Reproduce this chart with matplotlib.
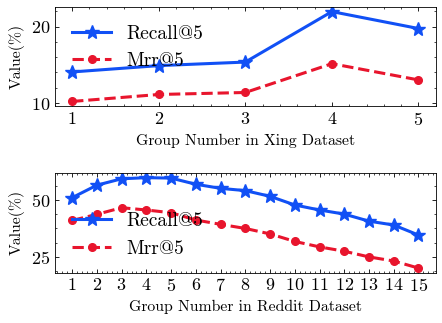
import matplotlib
matplotlib.use("Agg")
import matplotlib.pyplot as plt
from matplotlib.ticker import AutoMinorLocator

plt.rcParams.update({
    "font.family": "serif",
    "font.serif": ["cmr10"],
    "mathtext.fontset": "cm",
    "axes.formatter.use_mathtext": True,
    "axes.unicode_minus": False,
    "xtick.direction": "in",
    "ytick.direction": "in",
    "xtick.top": True,
    "ytick.right": True,
    "xtick.minor.visible": True,
    "ytick.minor.visible": True,
    "xtick.major.size": 3,
    "ytick.major.size": 3,
    "xtick.minor.size": 1.5,
    "ytick.minor.size": 1.5,
    "axes.linewidth": 0.6,
    "xtick.major.width": 0.6,
    "ytick.major.width": 0.6,
    "xtick.minor.width": 0.5,
    "ytick.minor.width": 0.5,
    "legend.frameon": False,
})

xing_groups = [1, 2, 3, 4, 5]
xing_recall = [14.07, 14.9, 15.36, 21.95, 19.74]
xing_mrr = [10.22, 11.13, 11.39, 15.15, 13.03]

reddit_groups = list(range(1, 16))
reddit_recall = [51.0, 56.5, 59.3, 59.8, 59.6, 56.9, 55.1, 54.1, 51.6, 47.8,
                 45.6, 43.8, 40.7, 39.0, 34.6]
reddit_mrr = [41.0, 43.7, 46.6, 45.6, 44.4, 41.2, 39.3, 37.5, 35.1, 31.8,
              29.4, 27.5, 25.0, 23.2, 20.1]

blue = "#1150F5"
red = "#E8152D"

fig = plt.figure(figsize=(4.42, 3.23), dpi=100)
ax1 = fig.add_axes([0.124, 0.672, 0.862, 0.306])
ax2 = fig.add_axes([0.124, 0.156, 0.862, 0.308])

for ax, g, rec, mrr, yt, ndiv, xl in [
    (ax1, xing_groups, xing_recall, xing_mrr, [10, 20], 5, "Group Number in Xing Dataset"),
    (ax2, reddit_groups, reddit_recall, reddit_mrr, [25, 50], 4, "Group Number in Reddit Dataset"),
]:
    ax.plot(g, rec, "-", color=blue, marker="*", ms=10, lw=2.2, label="Recall@5")
    ax.plot(g, mrr, "--", color=red, marker="o", ms=5.5, lw=2.2, label="Mrr@5")
    ax.set_xticks(g)
    ax.set_yticks(yt)
    ax.yaxis.set_minor_locator(AutoMinorLocator(ndiv))
    ax.xaxis.set_minor_locator(AutoMinorLocator(5))
    ax.tick_params(labelsize=13)
    ax.set_xlabel(xl, fontsize=11.3)
    ax.set_ylabel("Value(%)", fontsize=11.3)

ax1.legend(loc="upper left", fontsize=14, handlelength=2.0)
ax2.legend(loc="lower left", bbox_to_anchor=(0, -0.025), fontsize=14, handlelength=2.0)

fig.savefig("out.png", dpi=100)
